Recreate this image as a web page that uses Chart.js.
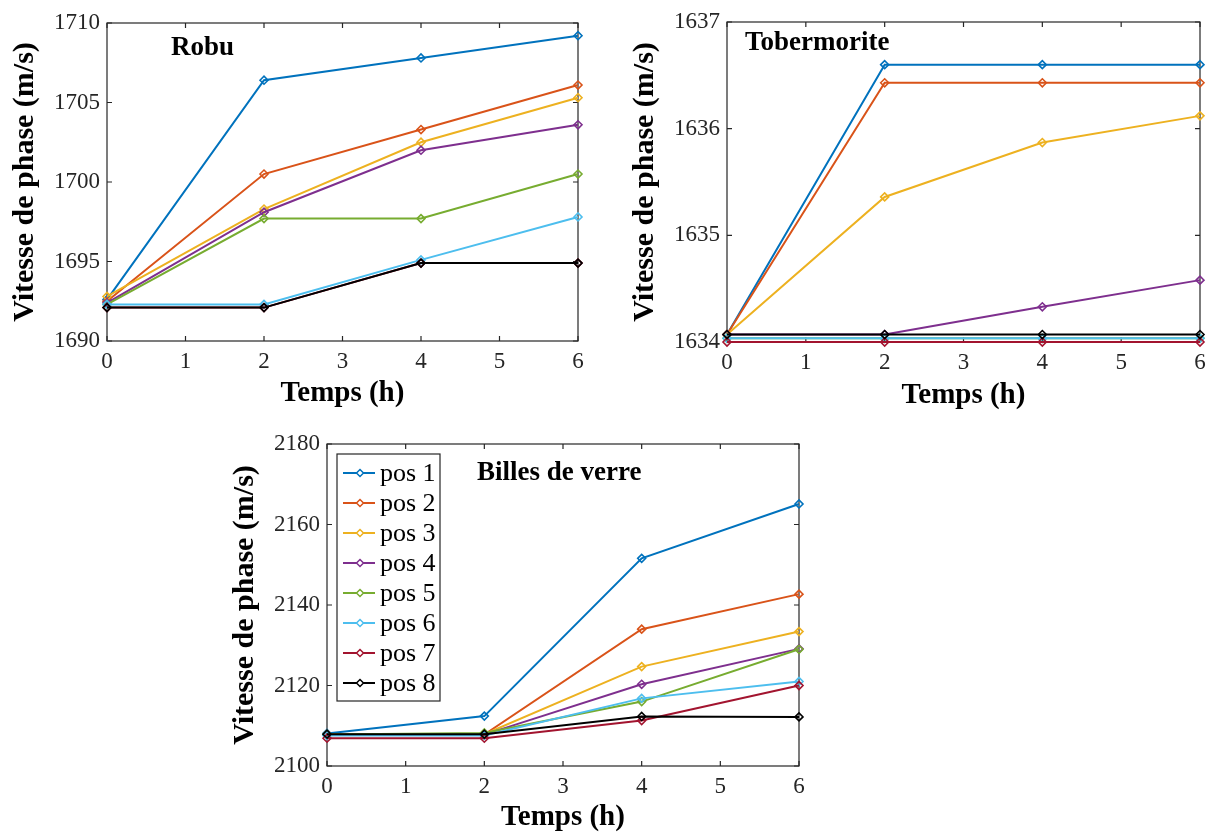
<!DOCTYPE html>
<html>
<head>
<meta charset="utf-8">
<script src="https://cdn.jsdelivr.net/npm/chart.js@4.4.1/dist/chart.umd.min.js"></script>
<style>
  body { margin: 0; background: #fff; width: 1214px; height: 832px; position: relative; overflow: hidden; }
  .wrap { position: absolute; }
</style>
</head>
<body>
<div class="wrap" style="left:0px;top:0px;width:600px;height:420px"><canvas id="robu"></canvas></div>
<div class="wrap" style="left:620px;top:0px;width:594px;height:420px"><canvas id="tober"></canvas></div>
<div class="wrap" style="left:220px;top:420px;width:600px;height:412px"><canvas id="billes"></canvas></div>
<script>
// temps (h)
var hours = [0, 2, 4, 6];
var seriesNames = ["pos 1", "pos 2", "pos 3", "pos 4", "pos 5", "pos 6", "pos 7", "pos 8"];
var colors = ["#0072BD", "#D95319", "#EDB120", "#7E2F8E", "#77AC30", "#4DBEEE", "#A2142F", "#000000"];

// Robu
var robu1 = [1692.6, 1706.4, 1707.8, 1709.2];
var robu2 = [1692.5, 1700.5, 1703.3, 1706.1];
var robu3 = [1692.8, 1698.3, 1702.5, 1705.3];
var robu4 = [1692.4, 1698.1, 1702.0, 1703.6];
var robu5 = [1692.3, 1697.7, 1697.7, 1700.5];
var robu6 = [1692.3, 1692.3, 1695.1, 1697.8];
var robu7 = [1692.1, 1692.1, 1694.9, 1694.9];
var robu8 = [1692.1, 1692.1, 1694.9, 1694.9];

// Tobermorite
var tober1 = [1634.07, 1636.6, 1636.6, 1636.6];
var tober2 = [1634.07, 1636.43, 1636.43, 1636.43];
var tober3 = [1634.07, 1635.36, 1635.87, 1636.12];
var tober4 = [1634.07, 1634.07, 1634.33, 1634.58];
var tober5 = [1634.035, 1634.035, 1634.035, 1634.035];
var tober6 = [1634.035, 1634.035, 1634.035, 1634.035];
var tober7 = [1634.0, 1634.0, 1634.0, 1634.0];
var tober8 = [1634.07, 1634.07, 1634.07, 1634.07];

// Billes de verre
var billes1 = [2108.1, 2112.4, 2151.6, 2165.1];
var billes2 = [2107.8, 2107.8, 2134.0, 2142.7];
var billes3 = [2107.8, 2107.9, 2124.7, 2133.4];
var billes4 = [2107.7, 2107.8, 2120.3, 2129.1];
var billes5 = [2107.8, 2108.2, 2116.0, 2129.0];
var billes6 = [2107.6, 2107.6, 2116.8, 2121.0];
var billes7 = [2106.9, 2106.9, 2111.3, 2120.0];
var billes8 = [2107.9, 2107.9, 2112.3, 2112.2];

// y ticks
var robuTicks = [1690, 1695, 1700, 1705, 1710];
var toberTicks = [1634, 1635, 1636, 1637];
var billesTicks = [2100, 2120, 2140, 2160, 2180];
var xTicks = [0, 1, 2, 3, 4, 5, 6];

var serif = "'Liberation Serif', 'Times New Roman', serif";
var axisGray = "#262626";

function makeDatasets(list) {
  return list.map(function (vals, i) {
    return {
      label: seriesNames[i],
      data: vals.map(function (v, k) { return { x: hours[k], y: v }; }),
      borderColor: colors[i],
      backgroundColor: colors[i],
      borderWidth: 2,
      pointStyle: 'rectRot',
      pointRadius: 4,
      pointBorderWidth: 1.6,
      pointBackgroundColor: 'rgba(255,255,255,0)',
      pointBorderColor: colors[i],
      tension: 0,
      clip: false,
      order: list.length - i
    };
  });
}

// boite MATLAB avec graduations vers l'interieur
var boxTicks = {
  id: 'boxTicks',
  beforeDatasetsDraw: function (chart) {
    var ctx = chart.ctx, a = chart.chartArea;
    var xs = chart.scales.x, ys = chart.scales.y;
    var len = 5;
    ctx.save();
    ctx.strokeStyle = axisGray;
    ctx.lineWidth = 1.2;
    ctx.strokeRect(a.left, a.top, a.right - a.left, a.bottom - a.top);
    ctx.beginPath();
    xs.ticks.forEach(function (t) {
      var px = xs.getPixelForValue(t.value);
      ctx.moveTo(px, a.bottom); ctx.lineTo(px, a.bottom - len);
      ctx.moveTo(px, a.top); ctx.lineTo(px, a.top + len);
    });
    ys.ticks.forEach(function (t) {
      var py = ys.getPixelForValue(t.value);
      ctx.moveTo(a.left, py); ctx.lineTo(a.left + len, py);
      ctx.moveTo(a.right, py); ctx.lineTo(a.right - len, py);
    });
    ctx.stroke();
    ctx.restore();
  }
};

var innerText = {
  id: 'innerText',
  afterDatasetsDraw: function (chart, args, opts) {
    if (!opts.text) return;
    var ctx = chart.ctx, a = chart.chartArea;
    ctx.save();
    ctx.font = "bold 27px " + serif;
    ctx.fillStyle = "#000";
    ctx.textBaseline = "alphabetic";
    ctx.fillText(opts.text, a.left + opts.dx, a.top + opts.dy);
    ctx.restore();
  }
};

var innerLegend = {
  id: 'innerLegend',
  afterDatasetsDraw: function (chart, args, opts) {
    if (!opts.show) return;
    var ctx = chart.ctx, a = chart.chartArea;
    var left = a.left + 10, top = a.top + 10, w = 103, h = 247, row = 30;
    ctx.save();
    ctx.fillStyle = "#fff";
    ctx.fillRect(left, top, w, h);
    ctx.strokeStyle = axisGray;
    ctx.lineWidth = 1.2;
    ctx.strokeRect(left, top, w, h);
    ctx.font = "26px " + serif;
    ctx.textBaseline = "middle";
    chart.data.datasets.forEach(function (ds, i) {
      var cy = top + 19 + i * row;
      ctx.strokeStyle = ds.borderColor;
      ctx.lineWidth = 2;
      ctx.beginPath();
      ctx.moveTo(left + 6, cy); ctx.lineTo(left + 38, cy);
      ctx.stroke();
      ctx.lineWidth = 1.5;
      ctx.beginPath();
      var mx = left + 23, r = 3.5;
      ctx.moveTo(mx, cy - r); ctx.lineTo(mx + r, cy); ctx.lineTo(mx, cy + r); ctx.lineTo(mx - r, cy); ctx.closePath();
      ctx.fillStyle = "#fff"; ctx.fill(); ctx.stroke();
      ctx.fillStyle = "#000";
      ctx.fillText(ds.label, left + 43, cy + 1);
    });
    ctx.restore();
  }
};

function plainNumber(v) { return String(v); }

function makeChart(id, lists, yMin, yMax, yTickList, label, pad, xHeight, xTitlePad, showLegend) {
  var ctx = document.getElementById(id);
  return new Chart(ctx, {
    type: 'line',
    data: { datasets: makeDatasets(lists) },
    plugins: [boxTicks, innerText, innerLegend],
    options: {
      responsive: true,
      maintainAspectRatio: false,
      animation: false,
      layout: { padding: pad },
      plugins: {
        legend: { display: false },
        tooltip: { enabled: false },
        innerText: label,
        innerLegend: { show: showLegend }
      },
      scales: {
        x: {
          type: 'linear', min: 0, max: 6,
          afterFit: function (s) { s.height = xHeight; },
          afterBuildTicks: function (s) { s.ticks = xTicks.map(function (v) { return { value: v }; }); },
          grid: { display: false, drawTicks: false },
          border: { display: false },
          ticks: { color: axisGray, font: { family: serif, size: 23 }, padding: 7, maxRotation: 0, callback: plainNumber },
          title: { display: true, text: 'Temps (h)', color: '#000', font: { family: serif, size: 29, weight: 'bold', lineHeight: 1 }, padding: { top: 0, bottom: xTitlePad } }
        },
        y: {
          type: 'linear', min: yMin, max: yMax,
          afterFit: function (s) { s.width = 107; },
          afterBuildTicks: function (s) { s.ticks = yTickList.map(function (v) { return { value: v }; }); },
          grid: { display: false, drawTicks: false },
          border: { display: false },
          ticks: { color: axisGray, font: { family: serif, size: 23 }, padding: 7, callback: plainNumber },
          title: { display: true, text: 'Vitesse de phase (m/s)', color: '#000', font: { family: serif, size: 30, weight: 'bold', lineHeight: 1 }, padding: { top: 10, bottom: 0 } }
        }
      }
    }
  });
}

makeChart('robu', [robu1, robu2, robu3, robu4, robu5, robu6, robu7, robu8], 1690, 1710, robuTicks,
  { text: 'Robu', dx: 64, dy: 32 }, { top: 23, right: 22, bottom: 0, left: 0 }, 79, 12, false);
makeChart('tober', [tober1, tober2, tober3, tober4, tober5, tober6, tober7, tober8], 1634, 1637, toberTicks,
  { text: 'Tobermorite', dx: 18, dy: 28 }, { top: 22, right: 14, bottom: 0, left: 0 }, 78, 10, false);
makeChart('billes', [billes1, billes2, billes3, billes4, billes5, billes6, billes7, billes8], 2100, 2180, billesTicks,
  { text: 'Billes de verre', dx: 150, dy: 36 }, { top: 24, right: 21, bottom: 0, left: 0 }, 66, 0, true);
</script>
</body>
</html>
